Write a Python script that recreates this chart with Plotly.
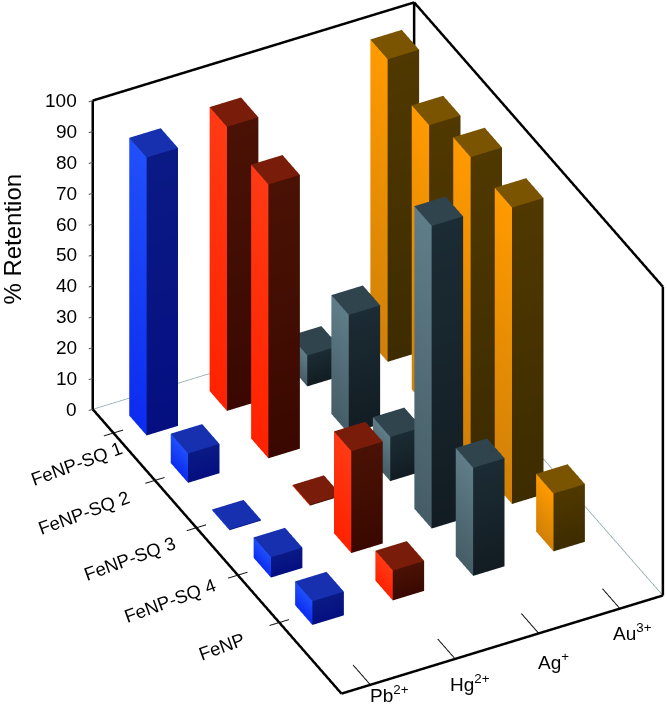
import plotly.graph_objects as go
import math

ions = ["Pb<sup>2+</sup>", "Hg<sup>2+</sup>", "Ag<sup>+</sup>", "Au<sup>3+</sup>"]
samples = ["FeNP", "FeNP-SQ 4", "FeNP-SQ 3", "FeNP-SQ 2", "FeNP-SQ 1"]
pb = [7.7, 6.6, 0.3, 9.5, 90]
hg = [9.7, 33, 0.3, 88.7, 92]
ag = [35, 98, 14.3, 38.5, 10]
au = [18.7, 96, 97, 92, 98]
z_ticks = [0, 10, 20, 30, 40, 50, 60, 70, 80, 90, 100]

series = [pb, hg, ag, au]
# bright face (top, bottom), dark face (top, bottom), top face
palette = [(("#2050fa", "#0c2cf0"), ("#0a1a85", "#050f80"), "#1630b0"),
           (("#ff3a14", "#ff2200"), ("#4a1205", "#3a0800"), "#7a1c0a"),
           (("#5f7d88", "#455d67"), ("#1c2c34", "#121c22"), "#30444e"),
           (("#ff9a00", "#d08008"), ("#503800", "#3d2c00"), "#7a5400")]

BW_X, BW_Y = 0.391, 0.418
X0, X1, Y0, Y1 = -0.5, 3.5, -1.5, 4.5
XR = [X0 - 0.15, X1 + 0.03]
YR = [Y0 - 0.03, Y1 + 0.03]
ZR = [-0.5, 100.5]


def bar(xc, yc, h, colors):
    (l_t, l_b), (r_t, r_b), top = colors
    x0, x1 = xc - BW_X / 2, xc + BW_X / 2
    y0, y1 = yc - BW_Y / 2, yc + BW_Y / 2
    faces = [
        ([(x0, y0, 0), (x0, y1, 0), (x0, y1, h), (x0, y0, h)], [l_b, l_b, l_t, l_t]),
        ([(x0, y0, 0), (x1, y0, 0), (x1, y0, h), (x0, y0, h)], [r_b, r_b, r_t, r_t]),
        ([(x0, y0, h), (x1, y0, h), (x1, y1, h), (x0, y1, h)], [top] * 4),
    ]
    X, Y, Z, I, J, K_, C = [], [], [], [], [], [], []
    for pts, cols in faces:
        n = len(X)
        for p, c in zip(pts, cols):
            X.append(p[0]); Y.append(p[1]); Z.append(p[2]); C.append(c)
        I += [n, n]; J += [n + 1, n + 2]; K_ += [n + 2, n + 3]
    return go.Mesh3d(x=X, y=Y, z=Z, i=I, j=J, k=K_, vertexcolor=C, flatshading=True,
                     lighting=dict(ambient=1, diffuse=0, specular=0, fresnel=0, roughness=1),
                     hoverinfo="skip", showscale=False)


def lines(pairs, color, width):
    X, Y, Z = [], [], []
    for a, b in pairs:
        X += [a[0], b[0], None]; Y += [a[1], b[1], None]; Z += [a[2], b[2], None]
    return go.Scatter3d(x=X, y=Y, z=Z, mode="lines", line=dict(color=color, width=width),
                        hoverinfo="skip", showlegend=False)


fig = go.Figure()
for xi, vals in enumerate(series):
    for yi, v in enumerate(vals):
        fig.add_trace(bar(xi, yi, v, palette[xi]))

frame = [((X0, Y0, 0), (X1, Y0, 0)), ((X0, Y0, 0), (X0, Y1, 0)),
         ((X0, Y1, 0), (X0, Y1, 100)), ((X0, Y1, 100), (X1, Y1, 100)),
         ((X1, Y1, 100), (X1, Y0, 100)), ((X1, Y0, 100), (X1, Y0, 0)),
         ((X1, Y1, 0), (X1, Y1, 100))]
floor = [((X0, Y1, 0), (X1, Y1, 0)), ((X1, Y0, 0), (X1, Y1, 0))]
ytk = [((X0 - 0.12, yi, 0), (X0 + 0.12, yi, 0)) for yi in range(len(samples))]
x_tick_pos = [-0.14, 0.915, 1.955, 2.965]
xtk = [((x, Y0, 0), (x, Y0 + 0.42, 0)) for x in x_tick_pos]
ztk = [((X0 - 0.05, Y1, z), (X0, Y1, z)) for z in z_ticks]
fig.add_trace(lines(floor, "#8aa3a8", 1.5))
fig.add_trace(lines(frame, "#000000", 5))
fig.add_trace(lines(ytk + xtk, "#111111", 2))
fig.add_trace(lines(ztk, "#555555", 2))

FONT = "Liberation Sans, Arial, sans-serif"
ann = []
y_shift = [(-58, -24), (-68, -25), (-67, -31), (-71, -32), (-37, -31)]
for yi, s in enumerate(samples):
    ann.append(dict(x=X0, y=yi, z=0, text=s, showarrow=False, textangle=-20,
                    xshift=y_shift[yi][0], yshift=y_shift[yi][1],
                    font=dict(family=FONT, size=18.5, color="#000000")))
x_shift = [(19, -9), (15, -24), (15, -28), (13, -23)]
for xi, s in enumerate(ions):
    ann.append(dict(x=x_tick_pos[xi], y=Y0, z=0, text=s, showarrow=False,
                    xshift=x_shift[xi][0], yshift=x_shift[xi][1],
                    font=dict(family=FONT, size=19, color="#000000")))
for z in z_ticks:
    ann.append(dict(x=X0, y=Y1, z=z, text=str(z), showarrow=False, xanchor="right",
                    xshift=-14, font=dict(family=FONT, size=19, color="#000000")))
ann.append(dict(x=X0, y=Y1, z=55, text="% Retention", showarrow=False, textangle=-90,
                xshift=-81, font=dict(family=FONT, size=24, color="#000000")))

phi = math.atan(0.5168)
theta = math.asin(0.5908)
R = 2.0
eye = dict(x=-R * math.sin(phi) * math.cos(theta), y=-R * math.cos(phi) * math.cos(theta), z=R * math.sin(theta))
K = 1.55
u_x, u_y, u_z = K * 90.3 / 540.8, K * 90.13 / 540.8, K * 3.82 / 540.8
xs, ys, zs = XR[1] - XR[0], YR[1] - YR[0], ZR[1] - ZR[0]
xc, yc, zc = sum(XR) / 2, sum(YR) / 2, sum(ZR) / 2
cx = 341.7 + 80.25 * (xc - X0) - 41.4 * (yc - Y0)
cy = 693 - 24.5 * (xc - X0) - 47.33 * (yc - Y0) - 3.08 * zc
half_w = 667 - cx
half_h = min(cy, 706 - cy)
hidden = dict(showbackground=False, showgrid=False, zeroline=False, showticklabels=False,
              showline=False, showspikes=False, ticks="", title="")
fig.update_layout(
    width=667, height=706, margin=dict(l=0, r=0, t=0, b=0), paper_bgcolor="white",
    showlegend=False,
    scene=dict(
        domain=dict(x=[(cx - half_w) / 667, 1], y=[1 - (cy + half_h) / 706, 1 - (cy - half_h) / 706]),
        xaxis=dict(hidden, range=XR),
        yaxis=dict(hidden, range=YR),
        zaxis=dict(hidden, range=ZR),
        aspectmode="manual",
        aspectratio=dict(x=xs * u_x, y=ys * u_y, z=zs * u_z),
        camera=dict(eye=eye, up=dict(x=0, y=0, z=1), center=dict(x=0, y=0, z=0),
                    projection=dict(type="orthographic")),
        annotations=ann,
    ),
)
fig.write_html("out.html", config=dict(displayModeBar=False),
               post_script="document.body.style.margin='0';")
